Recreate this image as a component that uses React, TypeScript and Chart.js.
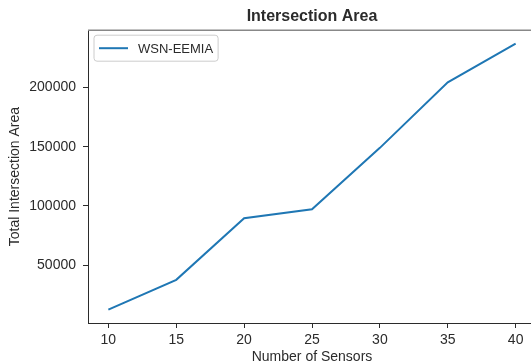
import React, { useEffect, useRef } from "react";
import { Chart, registerables } from "chart.js";

Chart.register(...registerables);

const sensors = [10, 15, 20, 25, 30, 35, 40];
const intersectionArea = [12500, 37700, 89600, 97200, 149000, 204300, 237000];
const xTickValues = [10, 15, 20, 25, 30, 35, 40];
const yTickValues = [50000, 100000, 150000, 200000];
const seriesLabel = "WSN-EEMIA";
const chartTitle = "Intersection Area";
const xTitle = "Number of Sensors";
const yTitle = "Total Intersection Area";

const FONT = "'Liberation Sans', Arial, sans-serif";
const TEXT = "#2b2b2b";
const LINE = "#1f77b4";

export default function App() {
  const ref = useRef<HTMLCanvasElement>(null);

  useEffect(() => {
    if (!ref.current) return;
    const xMin = Math.min(...sensors);
    const xMax = Math.max(...sensors);
    const yMin = Math.min(...intersectionArea);
    const yMax = Math.max(...intersectionArea);
    const xm = (xMax - xMin) * 0.05;
    const ym = (yMax - yMin) * 0.05;

    const framePlugin = {
      id: "frameAndLegend",
      afterDraw(chart: any) {
        const { ctx, chartArea: a } = chart;
        ctx.save();
        ctx.strokeStyle = "#888";
        ctx.lineWidth = 1.5;
        ctx.beginPath();
        ctx.moveTo(a.left, a.top);
        ctx.lineTo(a.right, a.top);
        ctx.lineTo(a.right, a.bottom);
        ctx.stroke();

        const ds = chart.data.datasets[0];
        ctx.font = `13px ${FONT}`;
        const tw = ctx.measureText(ds.label).width;
        const bx = a.left + 6;
        const by = a.top + 5;
        const bh = 26;
        const bw = 5 + 29 + 10 + tw + 5;
        const r = 3;
        ctx.beginPath();
        ctx.moveTo(bx + r, by);
        ctx.lineTo(bx + bw - r, by);
        ctx.quadraticCurveTo(bx + bw, by, bx + bw, by + r);
        ctx.lineTo(bx + bw, by + bh - r);
        ctx.quadraticCurveTo(bx + bw, by + bh, bx + bw - r, by + bh);
        ctx.lineTo(bx + r, by + bh);
        ctx.quadraticCurveTo(bx, by + bh, bx, by + bh - r);
        ctx.lineTo(bx, by + r);
        ctx.quadraticCurveTo(bx, by, bx + r, by);
        ctx.closePath();
        ctx.fillStyle = "rgba(255,255,255,0.8)";
        ctx.fill();
        ctx.strokeStyle = "#ccc";
        ctx.lineWidth = 1;
        ctx.stroke();

        ctx.beginPath();
        ctx.moveTo(bx + 5, by + bh / 2);
        ctx.lineTo(bx + 34, by + bh / 2);
        ctx.strokeStyle = ds.borderColor;
        ctx.lineWidth = 2;
        ctx.stroke();

        ctx.fillStyle = TEXT;
        ctx.textBaseline = "middle";
        ctx.textAlign = "left";
        ctx.fillText(ds.label, bx + 44, by + bh / 2 + 1);
        ctx.restore();
      },
    };

    const chart = new Chart(ref.current, {
      type: "line",
      data: {
        datasets: [
          {
            label: seriesLabel,
            data: sensors.map((x, i) => ({ x, y: intersectionArea[i] })),
            borderColor: LINE,
            backgroundColor: LINE,
            borderWidth: 2,
            pointRadius: 0,
            fill: false,
            tension: 0,
          },
        ],
      },
      options: {
        responsive: false,
        animation: false,
        layout: { padding: { left: 0, right: 14, top: 0, bottom: 0 } },
        plugins: {
          legend: { display: false },
          tooltip: { enabled: false },
          title: {
            display: true,
            text: chartTitle,
            fullSize: false,
            color: TEXT,
            font: { family: FONT, size: 16, weight: "bold" },
            padding: { top: 7, bottom: 4 },
          },
        },
        scales: {
          x: {
            type: "linear",
            min: xMin - xm,
            max: xMax + xm,
            afterBuildTicks(s: any) {
              s.ticks = xTickValues.map((v) => ({ value: v }));
            },
            afterFit(s: any) {
              s.height = 41;
            },
            ticks: {
              maxRotation: 0,
              padding: 4,
              color: TEXT,
              font: { family: FONT, size: 14 },
              callback: (v: any) => String(v),
            },
            grid: {
              display: true,
              drawOnChartArea: false,
              drawTicks: true,
              tickLength: 5,
              color: TEXT,
            },
            border: { display: true, color: TEXT, width: 1 },
            title: {
              display: true,
              text: xTitle,
              color: TEXT,
              font: { family: FONT, size: 14, lineHeight: 1 },
              padding: { top: 0, bottom: 0 },
            },
          },
          y: {
            type: "linear",
            min: yMin - ym,
            max: yMax + ym,
            afterBuildTicks(s: any) {
              s.ticks = yTickValues.map((v) => ({ value: v }));
            },
            afterFit(s: any) {
              s.width = 88;
            },
            ticks: {
              padding: 7,
              color: TEXT,
              font: { family: FONT, size: 14 },
              callback: (v: any) => String(v),
            },
            grid: {
              display: true,
              drawOnChartArea: false,
              drawTicks: true,
              tickLength: 5,
              color: TEXT,
            },
            border: { display: true, color: TEXT, width: 1 },
            title: {
              display: true,
              text: yTitle,
              color: TEXT,
              font: { family: FONT, size: 14, lineHeight: 1 },
              padding: { top: 8, bottom: 0 },
            },
          },
        },
      },
      plugins: [framePlugin],
    });

    return () => chart.destroy();
  }, []);

  return (
    <div
      style={{
        position: "fixed",
        left: 0,
        top: 0,
        width: 531,
        height: 364,
        overflow: "hidden",
        background: "#fff",
      }}
    >
      <canvas ref={ref} width={550} height={364} style={{ display: "block" }} />
    </div>
  );
}
